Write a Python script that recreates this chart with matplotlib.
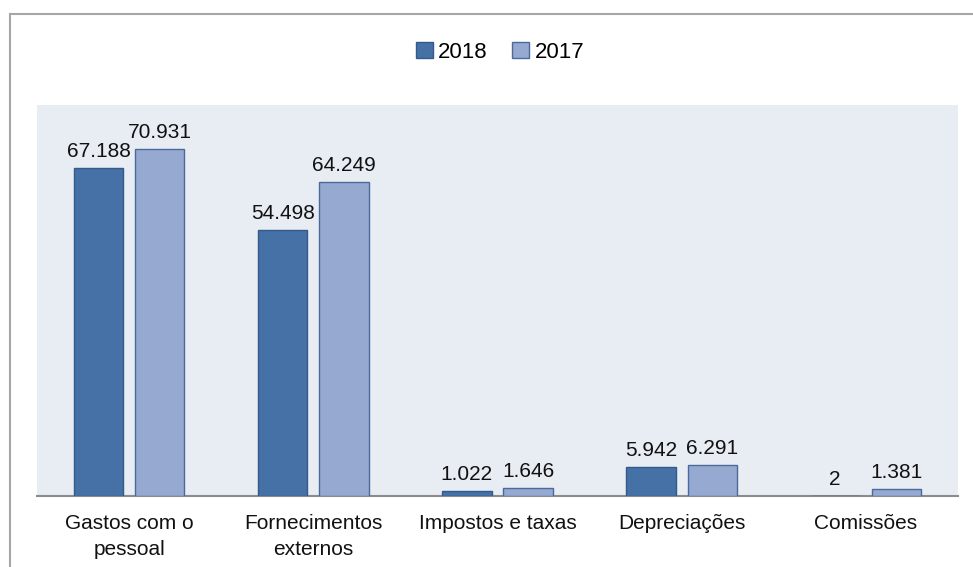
import numpy as np
import matplotlib.pyplot as plt
from matplotlib.lines import Line2D

categories = ['Gastos com o\npessoal', 'Fornecimentos\nexternos', 'Impostos e taxas', 'Depreciações', 'Comissões']
values_2018 = [67188, 54498, 1022, 5942, 2]
values_2017 = [70931, 64249, 1646, 6291, 1381]
labels_2018 = ['67.188', '54.498', '1.022', '5.942', '2']
labels_2017 = ['70.931', '64.249', '1.646', '6.291', '1.381']

plt.rcParams['font.family'] = ['Liberation Sans', 'DejaVu Sans']

fig = plt.figure(figsize=(9.73, 5.67), dpi=100)
ax = fig.add_axes([0.038, 0.125, 0.9465, 0.69])
ax.set_facecolor('#E8ECF3')

x = np.arange(len(categories))
w = 0.268
off = 0.166
b1 = ax.bar(x - off, values_2018, w, color='#4571A7', edgecolor='#35598A', linewidth=1,
            label='2018', zorder=3)
b2 = ax.bar(x + off, values_2017, w, color='#96A9D1', edgecolor='#4A6A9C', linewidth=1,
            label='2017', zorder=3)

for bars, labs in ((b1, labels_2018), (b2, labels_2017)):
    for rect, lab in zip(bars, labs):
        ax.annotate(lab, (rect.get_x() + rect.get_width() / 2, rect.get_height()),
                    xytext=(0, 5), textcoords='offset points', ha='center', va='bottom',
                    fontsize=15, color='#111111')

ax.set_xlim(-0.5, len(categories) - 0.5)
ax.set_ylim(0, 80000)
ax.set_xticks(x)
ax.set_xticklabels(categories, fontsize=15, color='#111111', linespacing=1.45)
ax.tick_params(axis='x', length=0, pad=13)
ax.set_yticks([])
for s in ('top', 'left', 'right'):
    ax.spines[s].set_visible(False)
ax.spines['bottom'].set_color('#8C8C8C')
ax.spines['bottom'].set_linewidth(1.5)

# legend with square swatches
ax.legend(loc='center', bbox_to_anchor=((500 / 973 - 0.038) / 0.9465, (1 - 52 / 567 - 0.125) / 0.69),
          ncol=2, frameon=False, fontsize=16, handlelength=0.75, handleheight=0.75,
          handletextpad=0.25, columnspacing=1.1)

# outer chart border
fig.add_artist(Line2D([10 / 973, 10 / 973], [0, 1 - 14 / 567], transform=fig.transFigure,
                      color='#A6A6A6', linewidth=1.5))
fig.add_artist(Line2D([10 / 973, 1], [1 - 14 / 567, 1 - 14 / 567], transform=fig.transFigure,
                      color='#A6A6A6', linewidth=1.5))

plt.savefig('out.png', dpi=100)
